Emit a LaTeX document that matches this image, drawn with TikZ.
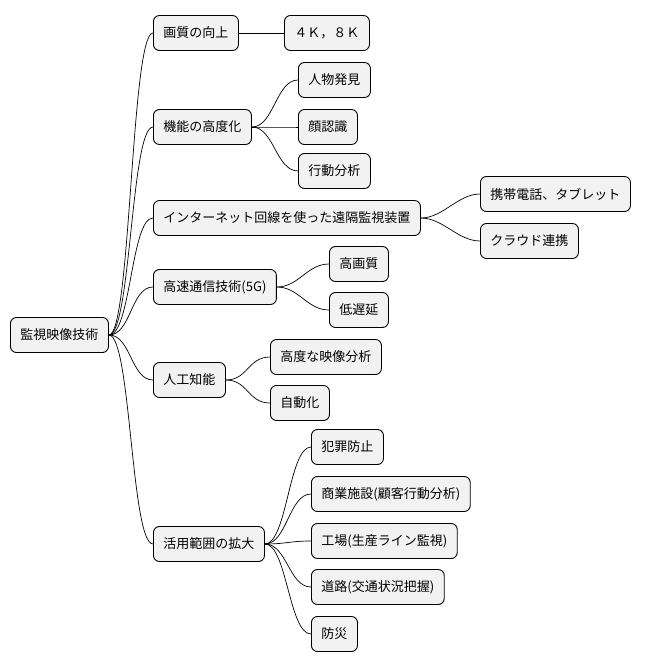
\documentclass[tikz,border=0pt]{standalone}
\usepackage{fontspec}
\setmainfont{Noto Sans CJK JP}
\usetikzlibrary{positioning}

\begin{document}
\begin{tikzpicture}[x=1pt,y=-1pt]
    \tikzstyle{topic} = [rectangle, draw, fill=gray!10, rounded corners=6pt,
    line width=0.9pt, anchor=west, minimum height=35pt, inner xsep=10pt,
    font=\fontsize{13}{15}\selectfont]
    \tikzstyle{line} = [draw, line width=0.7pt]
    \useasboundingbox (0,0) rectangle (650,669);

    % root
    \node[topic] (root) at (10,335) {監視映像技術};

    % first level
    \node[topic] (quality) at (153,33)  {画質の向上};
    \node[topic] (function) at (153,127) {機能の高度化};
    \node[topic] (remote) at (153,218) {インターネット回線を使った遠隔監視装置};
    \node[topic] (comm) at (153,287) {高速通信技術(5G)};
    \node[topic] (ai) at (153,380) {人工知能};
    \node[topic] (scope) at (153,544) {活用範囲の拡大};

    % second level
    \node[topic] (res) at (284,33) {４Ｋ，８Ｋ};
    \node[topic] (person) at (298,80) {人物発見};
    \node[topic] (face) at (298,127) {顔認識};
    \node[topic] (action) at (298,171) {行動分析};
    \node[topic] (mobile) at (480,194) {携帯電話、タブレット};
    \node[topic] (cloud) at (480,241) {クラウド連携};
    \node[topic] (hq) at (329,264) {高画質};
    \node[topic] (lowlat) at (329,310) {低遅延};
    \node[topic] (video) at (270,357) {高度な映像分析};
    \node[topic] (auto) at (270,403) {自動化};
    \node[topic] (crime) at (311,447) {犯罪防止};
    \node[topic] (shop) at (311,494) {商業施設(顧客行動分析)};
    \node[topic] (factory) at (311,541) {工場(生産ライン監視)};
    \node[topic] (road) at (311,587) {道路(交通状況把握)};
    \node[topic] (disaster) at (311,634) {防災};

    % connectors
    \foreach \a/\b in {root/quality, root/function, root/remote, root/comm,
      root/ai, root/scope, quality/res, function/person, function/face,
      function/action, remote/mobile, remote/cloud, comm/hq, comm/lowlat,
      ai/video, ai/auto, scope/crime, scope/shop, scope/factory, scope/road,
      scope/disaster}
      \path[line] (\a.east) .. controls +(22,0) and +(-22,0) .. (\b.west);

  \end{tikzpicture}
\end{document}
